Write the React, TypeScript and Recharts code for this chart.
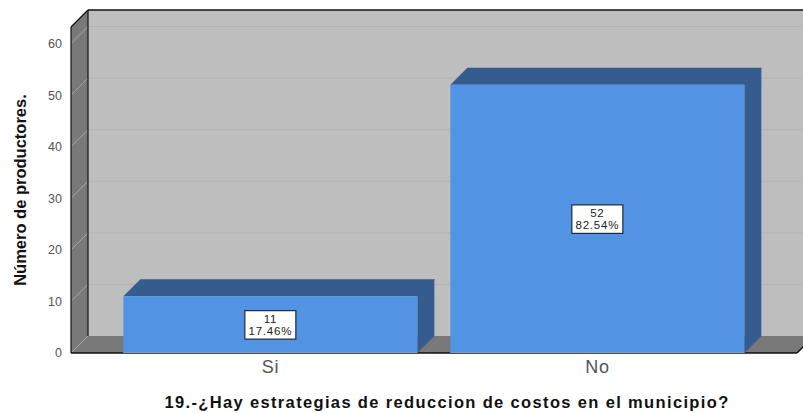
import React from "react";
import { BarChart, Bar, XAxis, YAxis, ReferenceArea, LabelList, Label } from "recharts";

const categories = ["Si", "No"];
const counts = [11, 52];
const percents = ["17.46%", "82.54%"];
const yTicks = [0, 10, 20, 30, 40, 50, 60];
const yMax = 63.2;
const chartData = categories.map((name, i) => ({ name, count: counts[i], percent: percents[i] }));

const DEPTH = 17;
const PAD_L = 36;
const PAD_R = 36;
const FRONT = "#5294E3";
const DARK = "#355C8F";
const WALL = "#797979";
const BACK = "#BEBEBE";
const GRID = "#B2B2B2";
const FONT = "'Liberation Sans', Arial, sans-serif";

const Walls = (props: any) => {
  const { y, height } = props;
  const x = props.x - PAD_L;
  const width = props.width + PAD_L + PAD_R;
  const r = x + width;
  const b = y + height;
  const d = DEPTH;
  return (
    <g>
      <rect x={x + d} y={y - d} width={width} height={height} fill={BACK} />
      <polygon points={`${x},${y} ${x + d},${y - d} ${x + d},${b - d} ${x},${b}`} fill={WALL} />
      <polygon points={`${x},${b} ${x + d},${b - d} ${r + d},${b - d} ${r},${b}`} fill={WALL} />
    </g>
  );
};

const Edges = (props: any) => {
  const { y, height } = props;
  const x = props.x - PAD_L;
  const r = props.x + props.width + PAD_R;
  const b = y + height;
  const d = DEPTH;
  return (
    <g>
      <line x1={x} y1={y} x2={x} y2={b} stroke="#111" strokeWidth={1.2} />
      <line x1={x + d} y1={y - d} x2={x + d} y2={b - d} stroke="#111" strokeWidth={1.2} />
      <line x1={x} y1={y} x2={x + d} y2={y - d} stroke="#111" strokeWidth={1.2} />
      <line x1={x + d} y1={y - d} x2={r + d} y2={y - d} stroke="#111" strokeWidth={1.4} />
      <line x1={x} y1={b} x2={r} y2={b} stroke="#111" strokeWidth={1.4} />
      <line x1={r} y1={b} x2={r + d} y2={b - d} stroke="#111" strokeWidth={1.4} />
    </g>
  );
};

const GridLine = (props: any) => {
  const x1 = props.x - PAD_L;
  const x2 = props.x + props.width + PAD_R;
  const y = props.y + props.height;
  return (
    <g>
      <line x1={x1} y1={y} x2={x1 + DEPTH} y2={y - DEPTH} stroke="#A8A8A8" strokeWidth={1} />
      {props.floor ? null : (
        <line x1={x1 + DEPTH} y1={y - DEPTH} x2={x2 + DEPTH} y2={y - DEPTH} stroke={GRID} strokeWidth={1} />
      )}
    </g>
  );
};

const Box3D = (props: any) => {
  const { x, y, width, height } = props;
  const d = DEPTH;
  const r = x + width;
  const b = y + height;
  return (
    <g>
      <polygon points={`${x},${y} ${x + d},${y - d} ${r + d},${y - d} ${r},${y}`} fill={DARK} />
      <polygon points={`${r},${y} ${r + d},${y - d} ${r + d},${b - d} ${r},${b}`} fill={DARK} />
      <line x1={r} y1={y} x2={r + d} y2={y - d} stroke="#2C4F7C" strokeWidth={0.8} />
      <rect x={x} y={y} width={width} height={height} fill={FRONT} />
      <line x1={x} y1={b} x2={r} y2={b} stroke="#8F9DB0" strokeWidth={1.4} />
    </g>
  );
};

const ValueBox = (props: any) => {
  const { x, y, width, height, index } = props;
  const cx = x + width / 2;
  const cy = y + height / 2;
  return (
    <g>
      <rect x={cx - 25.5} y={cy - 14} width={51} height={28.5} fill="#FFFFFF" stroke="#1C2A3A" strokeWidth={1.2} />
      <text x={cx} y={cy - 2} textAnchor="middle" fontSize={11.5} letterSpacing={0.6} fontFamily={FONT} fill="#222">{counts[index]}</text>
      <text x={cx} y={cy + 10} textAnchor="middle" fontSize={11.5} letterSpacing={0.8} fontFamily={FONT} fill="#222">{percents[index]}</text>
    </g>
  );
};

export default function App() {
  return (
    <div style={{ position: "absolute", left: 0, top: 0, width: 803, height: 413, background: "#fff" }}>
      <BarChart
        width={803}
        height={413}
        data={chartData}
        margin={{ top: 27, right: 6, bottom: 0, left: 0 }}
        barCategoryGap="5%"
      >
        <ReferenceArea y1={0} y2={yMax} shape={<Walls />} ifOverflow="visible" fill="none" stroke="none" />
        {yTicks.map((t) => (
          <ReferenceArea key={t} y1={t} y2={yMax} ifOverflow="visible" shape={<GridLine floor={t === 0} />} />
        ))}
        <ReferenceArea y1={0} y2={yMax} shape={<Edges />} ifOverflow="visible" fill="none" stroke="none" />
        <XAxis
          dataKey="name"
          height={60}
          axisLine={false}
          tickLine={false}
          padding={{ left: PAD_L, right: PAD_R }}
          tick={{ fontSize: 18, fontFamily: FONT, fill: "#555", letterSpacing: 0.8 }}
          tickMargin={1}
        >
          <Label
            value="19.-¿Hay estrategias de reduccion de costos en el municipio?"
            position="insideBottom"
            offset={5}
            dx={13}
            style={{ fontSize: 16.5, fontWeight: 700, fontFamily: FONT, fill: "#111", letterSpacing: 1.35 }}
          />
        </XAxis>
        <YAxis
          width={71}
          domain={[0, yMax]}
          ticks={yTicks}
          interval={0}
          allowDataOverflow
          axisLine={false}
          tickLine={false}
          tick={{ fontSize: 12.5, fontFamily: FONT, fill: "#555" }}
          tickMargin={3}
        >
          <Label
            value="Número de productores."
            angle={-90}
            position="insideLeft"
            offset={20}
            style={{ fontSize: 16.5, fontWeight: 700, fontFamily: FONT, fill: "#111", textAnchor: "middle" }}
          />
        </YAxis>
        <Bar dataKey="count" shape={<Box3D />} isAnimationActive={false}>
          <LabelList dataKey="count" content={<ValueBox />} />
        </Bar>
      </BarChart>
    </div>
  );
}
